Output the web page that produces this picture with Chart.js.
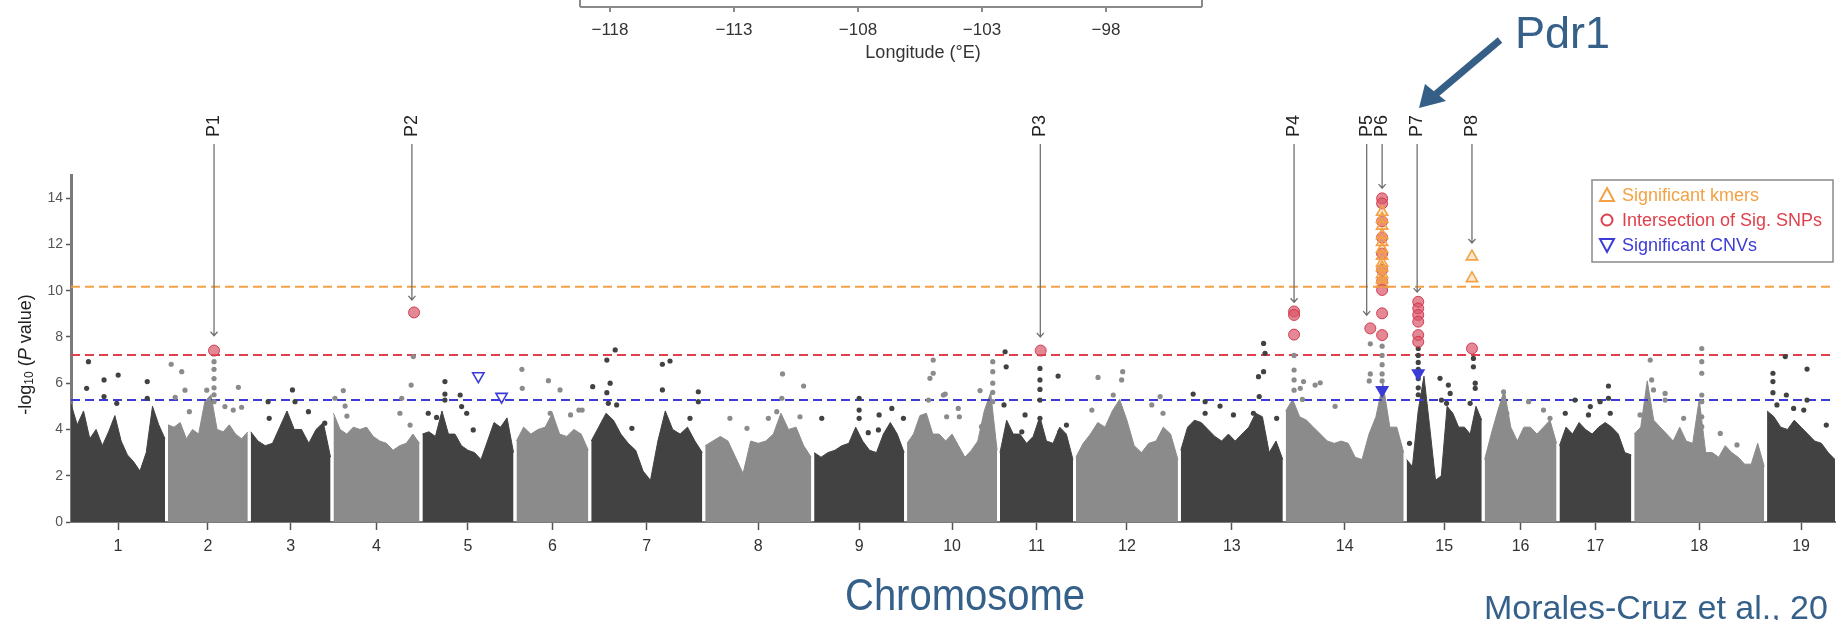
<!DOCTYPE html>
<html>
<head>
<meta charset="utf-8">
<script src="https://cdn.jsdelivr.net/npm/chart.js@4.4.1/dist/chart.umd.min.js"></script>
<style>
  html, body { margin: 0; padding: 0; background: #fff; }
  #wrap { position: relative; width: 1844px; height: 620px; overflow: hidden; }
  #plot { position: absolute; left: 0; top: 0; }
  #deco { position: absolute; left: 0; top: 0; pointer-events: none; }
  #deco text { font-family: "Liberation Sans", Arial, sans-serif; }
</style>
</head>
<body>
<div id="wrap">
  <canvas id="plot" width="1844" height="620"></canvas>
  <svg id="deco" width="1844" height="620" xmlns="http://www.w3.org/2000/svg">
    <g id="mapAxis" stroke="#8a8a8a" stroke-width="2" fill="none"></g>
    <g id="mapLabels" fill="#333" font-size="17" text-anchor="middle"></g>
    <text x="923" y="58" fill="#333" font-size="18" text-anchor="middle">Longitude (°E)</text>
    <line x1="1500" y1="40" x2="1436" y2="94" stroke="#355f86" stroke-width="7"/>
    <polygon points="1419,108 1425,84 1446,101" fill="#355f86"/>
    <text x="1515" y="48" fill="#35608a" font-size="45">Pdr1</text>
    <text x="845" y="610" fill="#35608a" font-size="44" textLength="240" lengthAdjust="spacingAndGlyphs">Chromosome</text>
    <text x="1484" y="619" fill="#35608a" font-size="34">Morales-Cruz et al., 20</text>
  </svg>
</div>
<script>
"use strict";
// chromosomes (lengths in Mb)
const chromNames = ['1','2','3','4','5','6','7','8','9','10','11','12','13','14','15','16','17','18','19'];
const chromLen = [25.9,22.0,22.0,23.7,25.1,19.8,30.6,29.2,24.8,24.8,20.1,28.1,28.1,32.5,20.7,19.8,19.8,35.8,18.7];
const chromGap = 0.8;

// top of the dense cloud of SNPs, evenly spread along each chromosome
const envelope = [
  [5.1,4.2,4.8,3.6,4.0,3.3,3.9,4.6,3.5,2.9,2.6,2.2,3.0,5.0,4.2,3.6],
  [4.2,4.1,4.3,3.6,4.0,3.8,5.2,5.5,4.0,3.9,4.2,3.8,3.6,3.9],
  [3.9,3.5,3.3,3.4,4.1,4.8,4.0,4.0,3.4,4.0,4.3,2.8],
  [4.7,4.0,3.8,4.1,4.0,4.1,3.7,3.5,3.4,3.1,3.3,3.4,3.8,3.4],
  [3.8,3.9,3.7,4.8,3.8,3.8,3.3,3.1,3.0,2.7,3.5,4.3,4.1,4.5,3.0],
  [3.5,4.1,3.8,4.0,4.1,4.7,3.8,3.7,4.0,3.8,3.1],
  [3.5,4.1,4.7,4.4,3.8,3.4,3.1,2.2,1.8,3.5,4.8,4.0,3.8,4.1,3.5,3.0],
  [3.3,3.5,3.7,3.5,2.8,2.1,3.5,3.4,3.5,3.8,4.7,4.0,4.1,3.3,2.8],
  [3.0,2.8,3.0,3.1,3.3,3.4,4.1,3.5,3.1,3.0,3.8,4.3,3.8,3.0],
  [3.4,3.8,4.6,4.7,3.8,3.8,3.5,3.8,3.3,2.8,3.1,3.5,4.8,5.6,3.1],
  [3.0,4.4,3.8,3.8,3.4,3.7,4.55,3.5,3.4,4.1,3.8,2.7],
  [2.8,3.4,3.8,4.3,4.1,4.8,5.3,4.4,3.3,3.0,3.4,3.5,4.1,3.8,2.7],
  [3.1,4.1,4.4,4.3,4.0,3.7,3.5,3.8,3.5,3.8,4.1,4.7,4.55,3.0,3.5,2.7],
  [4.8,5.3,4.55,4.4,4.1,3.8,3.5,3.4,3.5,3.4,2.8,2.7,3.8,4.55,6.0,4.1,4.1,3.0],
  [2.7,2.4,4.8,6.3,4.1,1.8,2.0,5.0,4.7,4.1,4.1,3.8,5.0,4.4],
  [2.7,3.8,4.8,5.7,4.1,3.5,4.1,4.1,3.8,4.1,4.4,3.4],
  [3.3,4.1,3.8,4.3,4.0,3.8,4.1,4.3,4.1,3.8,3.0,2.9],
  [3.8,4.1,6.1,4.4,4.1,3.8,3.5,4.1,3.5,3.4,5.3,3.0,3.0,2.8,3.3,3.0,2.8,2.5,2.5,3.4,2.4],
  [4.8,4.55,4.1,4.0,4.4,4.1,3.8,3.5,3.4,3.0,2.7]
];

// single SNPs standing out of the cloud: [chromosome, Mb, -log10 p]
const hits = [
  [1,4.8,6.93],[1,4.3,5.78],[1,9.1,6.14],[1,9.1,5.42],[1,13.0,6.35],[1,12.6,5.13],[1,21.0,6.07],[1,21.0,5.35],
  [2,0.9,6.82],[2,3.8,6.5],[2,4.7,5.7],[2,2.0,5.39],[2,10.7,5.7],[2,19.4,5.82],[2,15.7,4.99],[2,20.3,4.96],[2,18.0,4.84],[2,5.9,4.77],
  [2,12.7,6.93],[2,12.7,6.6],[2,12.7,6.2],[2,12.7,5.8],[2,12.7,5.5],[2,12.7,5.2],
  [3,4.8,5.2],[3,5.1,4.48],[3,11.5,5.71],[3,12.2,5.2],[3,15.9,4.77],[3,20.4,4.27],
  [4,0.4,5.35],[4,2.7,5.68],[4,3.2,5.01],[4,3.7,4.58],[4,18.8,5.35],[4,21.4,5.92],[4,22.0,7.15],[4,18.3,4.7],[4,21.1,4.19],
  [5,1.6,4.7],[5,3.9,4.52],[5,6.2,6.07],[5,6.2,5.53],[5,6.2,5.27],[5,10.4,5.49],[5,10.8,4.99],[5,12.2,4.7],[5,14.0,3.98],
  [6,1.5,6.6],[6,1.6,5.78],[6,8.8,6.11],[6,12.0,5.71],[6,9.3,4.7],[6,14.9,4.63],[6,17.2,4.84],[6,18.1,4.84],
  [7,0.4,5.85],[7,4.3,7.0],[7,6.6,7.44],[7,5.2,6.0],[7,4.3,5.59],[7,4.7,5.13],[7,7.0,5.06],[7,11.2,4.05],[7,19.6,6.82],[7,21.7,6.96],
  [7,19.6,5.71],[7,29.5,5.63],[7,29.5,5.2],[7,27.2,4.48],
  [8,6.8,4.48],[8,11.5,4.05],[8,17.4,4.48],[8,19.7,4.77],[8,21.3,6.4],[8,21.1,5.35],[8,27.1,5.88],[8,26.1,4.55],
  [9,2.1,4.48],[9,12.4,5.35],[9,12.4,4.84],[9,12.4,4.48],[9,14.9,3.86],[9,17.9,4.63],[9,17.7,3.98],[9,21.4,4.91],[9,24.6,4.48],
  [10,7.2,7.0],[10,7.2,6.43],[10,6.3,6.21],[10,10.0,5.49],[10,5.9,5.27],[10,10.9,4.55],[10,10.5,5.53],[10,14.1,4.91],[10,14.4,4.55],
  [10,20.1,5.68],[10,20.5,4.12],[10,23.6,6.93],[10,23.6,6.5],[10,23.6,6.0],[10,23.6,5.6],[10,23.6,5.2],
  [11,1.4,7.36],[11,1.7,6.71],[11,1.1,5.06],[11,6.9,4.63],[11,6.0,3.9],[11,11.0,6.64],[11,11.0,6.14],[11,11.0,5.73],[11,11.0,5.27],
  [11,11.0,4.48],[11,16.0,6.31],[11,18.3,4.19],[11,16.5,3.9],
  [12,6.1,6.25],[12,12.9,6.5],[12,10.3,5.49],[12,12.6,6.14],[12,23.2,5.42],[12,20.9,5.06],[12,24.0,4.7],[12,4.4,4.84],
  [13,3.4,5.53],[13,6.7,5.2],[13,6.7,4.7],[13,10.8,5.01],[13,14.5,4.63],[13,20.0,4.7],[13,21.4,6.28],[13,22.8,6.5],[13,22.8,7.72],
  [13,23.2,7.29],[13,21.6,5.42],[13,26.4,4.48],
  [14,4.9,6.07],[14,9.5,6.02],[14,8.1,5.92],[14,4.0,5.78],[14,2.3,7.2],[14,2.3,6.57],[14,2.3,6.14],[14,2.3,5.7],[14,4.6,5.3],
  [14,13.6,5.0],[14,23.3,7.7],[14,23.3,6.4],[14,23.0,6.1],[14,26.55,7.6],[14,26.55,7.2],[14,26.55,6.8],[14,26.55,6.4],[14,26.55,6.1],
  [15,3.2,7.5],[15,3.2,7.2],[15,3.2,6.9],[15,3.2,6.6],[15,3.2,6.2],[15,3.2,5.8],[15,3.2,5.5],[15,9.2,6.21],[15,11.5,5.92],
  [15,12.0,5.56],[15,9.6,5.27],[15,11.0,5.13],[15,18.4,7.07],[15,18.4,6.71],[15,18.9,6.0],[15,18.9,5.78],[15,17.5,5.13],[15,0.8,3.4],
  [16,5.2,5.63],[16,5.2,5.27],[16,12.1,5.2],[16,16.2,4.84],[16,18.0,4.48],[16,6.1,4.7],
  [17,1.6,4.7],[17,4.3,5.27],[17,8.5,4.99],[17,8.0,4.63],[17,11.2,5.2],[17,13.5,5.35],[17,13.5,5.88],[17,14.0,4.7],
  [18,4.4,7.0],[18,4.8,6.14],[18,5.3,5.71],[18,8.5,5.56],[18,8.5,5.27],[18,1.6,4.63],[18,18.6,7.5],[18,18.6,6.93],[18,18.6,6.43],
  [18,18.6,5.49],[18,18.6,5.2],[18,18.6,4.55],[18,18.6,4.12],[18,13.6,4.48],[18,23.7,3.83],[18,28.3,3.33],
  [19,5.0,7.15],[19,1.6,6.43],[19,1.6,6.07],[19,1.6,5.59],[19,2.7,5.06],[19,5.3,5.49],[19,11.0,6.61],[19,11.0,5.27],[19,10.1,4.84],
  [19,7.3,4.91],[19,16.3,4.19]
];

// intersection of significant SNPs
const snpHits = [
  [2,12.7,7.41],[4,22.2,9.06],[11,11.2,7.41],[14,2.3,9.1],[14,2.3,8.95],[14,2.3,8.1],[14,23.3,8.37],
  [14,26.55,13.99],[14,26.55,13.77],[14,26.55,13.0],[14,26.55,12.3],[14,26.55,11.6],[14,26.55,10.9],[14,26.55,10.4],
  [14,26.55,10.03],[14,26.55,9.02],[14,26.55,8.08],
  [15,3.2,9.52],[15,3.2,9.23],[15,3.2,8.95],[15,3.2,8.66],[15,3.2,8.08],[15,3.2,7.79],[15,18.0,7.5]
];
// significant kmers
const kmerHits = [
  [14,26.55,13.4],[14,26.55,13.1],[14,26.55,12.8],[14,26.55,12.4],[14,26.55,12.1],[14,26.55,11.8],[14,26.55,11.5],
  [14,26.55,11.2],[14,26.55,11.0],[14,26.55,10.7],[14,26.55,10.5],[14,26.55,10.3],[15,18.0,11.47],[15,18.0,10.53]
];
// significant CNVs
const cnvHits = [[5,15.4,6.31],[5,21.8,5.42],[14,26.55,5.7],[15,3.2,6.43]];

// thresholds
const thrKmer = 10.17;
const thrSnp = 7.22;
const thrCnv = 5.27;

// labelled peaks
const peakNames = ['P1','P2','P3','P4','P5','P6','P7','P8'];
const peakChr = [2,4,11,14,14,14,15,15];
const peakPos = [12.7,21.6,11.1,2.3,22.3,26.55,2.9,18.0];
const peakTip = [8.05,9.6,8.0,9.5,8.94,14.43,9.94,12.06];

const yTicks = [0,2,4,6,8,10,12,14];
const mapTicks = [-118,-113,-108,-103,-98];

const legendItems = ['Significant kmers','Intersection of Sig. SNPs','Significant CNVs'];

const FONT = '"Liberation Sans", Arial, sans-serif';
const cOrange = '#f3a144', cRed = '#e0404c', cBlue = '#3b3bd6';

// cumulative position of each chromosome
const chromStart = [];
let acc = 0;
chromLen.forEach(l => { chromStart.push(acc); acc += l + chromGap; });
const genomeEnd = acc - chromGap;
const gx = (c, p) => chromStart[c - 1] + p;
const shade = c => (c % 2 ? '#424242' : '#8b8b8b');
const toXY = arr => arr.map(h => ({ x: gx(h[0], h[1]), y: h[2] }));

const bodySets = envelope.map((tops, i) => ({
  data: tops.map((v, k) => ({ x: chromStart[i] + chromLen[i] * k / (tops.length - 1), y: v })),
  showLine: true,
  fill: 'origin',
  backgroundColor: shade(i + 1),
  borderColor: shade(i + 1),
  borderWidth: 1,
  pointRadius: 0,
  order: 50
}));

const thrSet = (v, col) => ({
  data: [{ x: 0, y: v }, { x: genomeEnd, y: v }],
  showLine: true, fill: false,
  borderColor: col, borderWidth: 2, borderDash: [9, 5],
  pointRadius: 0, order: 40
});

// P labels, arrows, legend, y title
const annot = {
  id: 'annot',
  afterDatasetsDraw(chart) {
    const ctx = chart.ctx, xs = chart.scales.x, ys = chart.scales.y;
    ctx.save();
    // arrows to the peaks
    peakNames.forEach((n, i) => {
      const x = xs.getPixelForValue(gx(peakChr[i], peakPos[i]));
      const yTip = ys.getPixelForValue(peakTip[i]);
      ctx.strokeStyle = '#707070';
      ctx.lineWidth = 1.3;
      ctx.beginPath();
      ctx.moveTo(x, 144); ctx.lineTo(x, yTip);
      ctx.moveTo(x - 3.5, yTip - 4); ctx.lineTo(x, yTip); ctx.lineTo(x + 3.5, yTip - 4);
      ctx.stroke();
      ctx.save();
      ctx.translate(x, 137);
      ctx.rotate(-Math.PI / 2);
      ctx.fillStyle = '#222';
      ctx.font = '18px ' + FONT;
      ctx.textAlign = 'left';
      ctx.textBaseline = 'middle';
      ctx.fillText(n, 0, 0);
      ctx.restore();
    });

    // legend box
    ctx.fillStyle = '#fff';
    ctx.fillRect(1592, 180, 241, 82);
    ctx.strokeStyle = '#8a8a8a';
    ctx.lineWidth = 1.5;
    ctx.strokeRect(1592, 180, 241, 82);
    const rows = [195, 220, 245];
    const cols = [cOrange, cRed, cBlue];
    ctx.lineWidth = 2;
    // up triangle
    ctx.strokeStyle = cOrange;
    ctx.beginPath();
    ctx.moveTo(1607, rows[0] - 7); ctx.lineTo(1614, rows[0] + 6); ctx.lineTo(1600, rows[0] + 6); ctx.closePath();
    ctx.stroke();
    // circle
    ctx.strokeStyle = cRed;
    ctx.beginPath(); ctx.arc(1607, rows[1], 5.5, 0, Math.PI * 2); ctx.stroke();
    // down triangle
    ctx.strokeStyle = cBlue;
    ctx.beginPath();
    ctx.moveTo(1600, rows[2] - 6); ctx.lineTo(1614, rows[2] - 6); ctx.lineTo(1607, rows[2] + 7); ctx.closePath();
    ctx.stroke();
    ctx.font = '18px ' + FONT;
    ctx.textAlign = 'left';
    ctx.textBaseline = 'middle';
    legendItems.forEach((t, i) => { ctx.fillStyle = cols[i]; ctx.fillText(t, 1622, rows[i] + 1); });

    // y axis title: -log10 (P value)
    ctx.save();
    ctx.translate(26, (ys.top + ys.bottom) / 2 + 6);
    ctx.rotate(-Math.PI / 2);
    ctx.fillStyle = '#222';
    ctx.textBaseline = 'middle';
    const parts = [
      ['-log', '18px ' + FONT, 0],
      ['10', '12px ' + FONT, 4],
      [' (', '18px ' + FONT, 0],
      ['P', 'italic 18px ' + FONT, 0],
      [' value)', '18px ' + FONT, 0]
    ];
    let w = 0;
    parts.forEach(p => { ctx.font = p[1]; w += ctx.measureText(p[0]).width; });
    let cx = -w / 2;
    parts.forEach(p => { ctx.font = p[1]; ctx.fillText(p[0], cx, p[2]); cx += ctx.measureText(p[0]).width; });
    ctx.restore();
    ctx.restore();
  }
};

new Chart(document.getElementById('plot'), {
  type: 'scatter',
  data: {
    datasets: [
      ...bodySets,
      thrSet(thrKmer, cOrange),
      thrSet(thrSnp, cRed),
      thrSet(thrCnv, cBlue),
      {
        data: toXY(hits),
        pointRadius: 2.6,
        pointBackgroundColor: hits.map(h => shade(h[0])),
        pointBorderWidth: 0,
        order: 30
      },
      {
        data: toXY(snpHits),
        pointRadius: 5.5,
        pointBackgroundColor: 'rgba(218,86,104,0.7)',
        pointBorderColor: 'rgba(205,50,70,0.9)',
        pointBorderWidth: 1,
        order: 20
      },
      {
        data: toXY(kmerHits),
        pointStyle: 'triangle',
        pointRadius: 6.5,
        pointBackgroundColor: 'rgba(243,161,68,0.25)',
        pointBorderColor: cOrange,
        pointBorderWidth: 1.6,
        order: 15
      },
      {
        data: toXY(cnvHits),
        pointStyle: 'triangle',
        rotation: 180,
        pointRadius: 6.5,
        pointBackgroundColor: cnvHits.map(h => (h[0] >= 14 ? cBlue : 'rgba(0,0,0,0)')),
        pointBorderColor: cBlue,
        pointBorderWidth: 1.6,
        order: 10
      }
    ]
  },
  options: {
    responsive: false,
    animation: false,
    devicePixelRatio: 1,
    layout: { padding: { left: 0, right: 9, top: 175, bottom: 0 } },
    plugins: { legend: { display: false }, tooltip: { enabled: false } },
    scales: {
      x: {
        type: 'linear',
        min: 0,
        max: genomeEnd,
        afterFit: s => { s.height = 98; },
        afterBuildTicks: s => { s.ticks = chromNames.map((n, i) => ({ value: chromStart[i] + chromLen[i] / 2 })); },
        ticks: {
          autoSkip: false, maxRotation: 0, padding: 7, color: '#333',
          font: { size: 16, family: FONT },
          callback: (v, i) => chromNames[i]
        },
        grid: { drawOnChartArea: false, color: '#555', tickLength: 8, tickWidth: 1.5 },
        border: { color: '#7a7a7a', width: 2 }
      },
      y: {
        min: 0,
        max: 15,
        afterFit: s => { s.width = 71; },
        afterBuildTicks: s => { s.ticks = yTicks.map(v => ({ value: v })); },
        ticks: { color: '#555', padding: 3, font: { size: 14, family: FONT }, callback: v => String(v) },
        grid: { drawOnChartArea: false, color: '#555', tickLength: 5, tickWidth: 1.5 },
        border: { color: '#7a7a7a', width: 3 }
      }
    }
  },
  plugins: [annot]
});

// cut-off longitude axis of the map above the plot
const mapAxis = document.getElementById('mapAxis');
const mapLabels = document.getElementById('mapLabels');
const mapX = v => 610 + (v - mapTicks[0]) * 24.8;
const NS = 'http://www.w3.org/2000/svg';
const addLine = (x1, y1, x2, y2) => {
  const l = document.createElementNS(NS, 'line');
  l.setAttribute('x1', x1); l.setAttribute('y1', y1); l.setAttribute('x2', x2); l.setAttribute('y2', y2);
  mapAxis.appendChild(l);
};
addLine(580, 7, 1202, 7);
addLine(580, 0, 580, 7);
addLine(1202, 0, 1202, 7);
mapTicks.forEach(v => {
  addLine(mapX(v), 7, mapX(v), 12);
  const t = document.createElementNS(NS, 'text');
  t.setAttribute('x', mapX(v));
  t.setAttribute('y', 35);
  t.textContent = '\u2212' + Math.abs(v);
  mapLabels.appendChild(t);
});
</script>
</body>
</html>
